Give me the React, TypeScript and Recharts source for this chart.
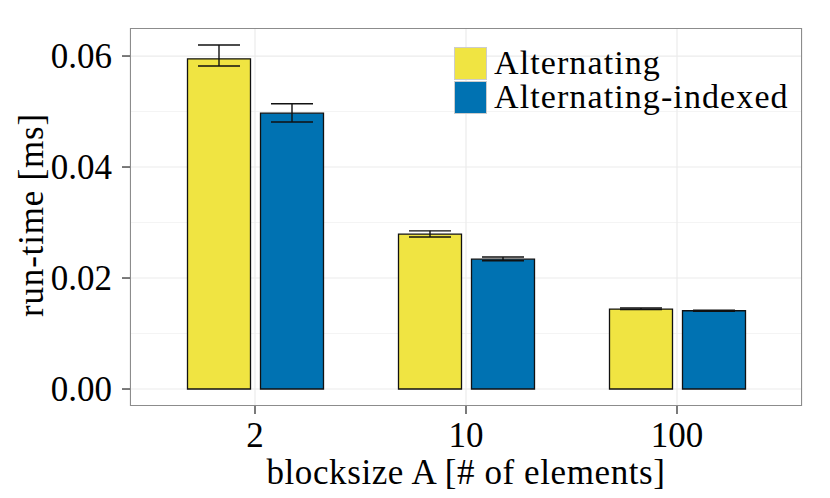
import React from 'react'
import {
  BarChart, Bar, XAxis, YAxis, CartesianGrid, ErrorBar, Label,
} from 'recharts'

const categories = ['2', '10', '100']
const alternating = [0.0595, 0.0279, 0.0144]
const altLow = [0.0582, 0.0274, 0.0143]
const altHigh = [0.0620, 0.0285, 0.0146]
const indexed = [0.0497, 0.0234, 0.0141]
const idxLow = [0.0481, 0.0231, 0.0140]
const idxHigh = [0.0514, 0.0238, 0.0142]
const yTicks = [0, 0.02, 0.04, 0.06]
const yMinor = [0.01, 0.03, 0.05]

const FONT = '"Liberation Serif", "Times New Roman", serif'
const YELLOW = '#F0E442'
const BLUE = '#0072B2'

const data = categories.map((c, i) => ({
  cat: c,
  alt: alternating[i],
  altErr: [alternating[i] - altLow[i], altHigh[i] - alternating[i]],
  idx: indexed[i],
  idxErr: [indexed[i] - idxLow[i], idxHigh[i] - indexed[i]],
}))

const series = [
  { name: 'Alternating', color: YELLOW },
  { name: 'Alternating-indexed', color: BLUE },
]

// legend sits inside the panel, top right
function LegendBox() {
  return (
    <div style={{
      position: 'absolute', left: 454, top: 46,
      fontFamily: FONT, fontSize: 34, color: '#000',
    }}>
      {series.map(s => (
        <div key={s.name} style={{ display: 'flex', alignItems: 'center', height: 34, lineHeight: '34px' }}>
          <span style={{
            display: 'inline-block', width: 33, height: 33, background: s.color,
            border: '0.5px solid #ccc', marginRight: 7, boxSizing: 'border-box',
          }} />
          <span style={{ whiteSpace: 'nowrap', letterSpacing: 1.1 }}>{s.name}</span>
        </div>
      ))}
    </div>
  )
}

export default function App() {
  return (
    <div style={{ position: 'absolute', left: 0, top: 0, width: 830, height: 498, background: '#fff' }}>
      <BarChart width={830} height={498} data={data}
                margin={{ top: 28, right: 28, left: 0, bottom: 0 }}
                barSize={63} barGap={10}>
        <CartesianGrid horizontalValues={yMinor} vertical={false} stroke="#f4f4f4" strokeWidth={1} />
        <CartesianGrid horizontalValues={yTicks} stroke="#ebebeb" strokeWidth={1.2} />
        <XAxis dataKey="cat" height={92} padding={{ left: 19.5, right: 19.5 }}
               axisLine={false} tickSize={8} tickMargin={8}
               tickLine={{ stroke: '#333', strokeWidth: 1.3 }}
               tick={{ fill: '#000', fontSize: 35, fontFamily: FONT }}>
          <Label value="blocksize A [# of elements]" position="insideBottom" offset={14}
                 style={{ fill: '#000', fontSize: 35, fontFamily: FONT, letterSpacing: 0.6 }} />
        </XAxis>
        <YAxis width={130} domain={[-0.00306, 0.06505]} ticks={yTicks} allowDataOverflow
               axisLine={false} tickSize={8} tickMargin={10}
               tickLine={{ stroke: '#333', strokeWidth: 1.3 }}
               tickFormatter={v => Number(v).toFixed(2)}
               tick={{ fill: '#000', fontSize: 35, fontFamily: FONT }}>
          <Label content={() => (
            <text x={43} y={215} transform="rotate(-90, 43, 215)" textAnchor="middle"
                  style={{ fill: '#000', fontSize: 35, fontFamily: FONT, letterSpacing: 0.8 }}>
              run-time [ms]
            </text>
          )} />
        </YAxis>
        <Bar dataKey="alt" name="Alternating" fill={YELLOW} stroke="#111" strokeWidth={1.3}
             isAnimationActive={false}>
          <ErrorBar dataKey="altErr" width={21} stroke="#111" strokeWidth={1.4} />
        </Bar>
        <Bar dataKey="idx" name="Alternating-indexed" fill={BLUE} stroke="#111" strokeWidth={1.3}
             isAnimationActive={false}>
          <ErrorBar dataKey="idxErr" width={21} stroke="#111" strokeWidth={1.4} />
        </Bar>
      </BarChart>
      <LegendBox />
      <div style={{
        position: 'absolute', left: 130, top: 28, width: 672, height: 378,
        border: '1px solid #8c8c8c', boxSizing: 'border-box', pointerEvents: 'none',
      }} />
    </div>
  )
}
